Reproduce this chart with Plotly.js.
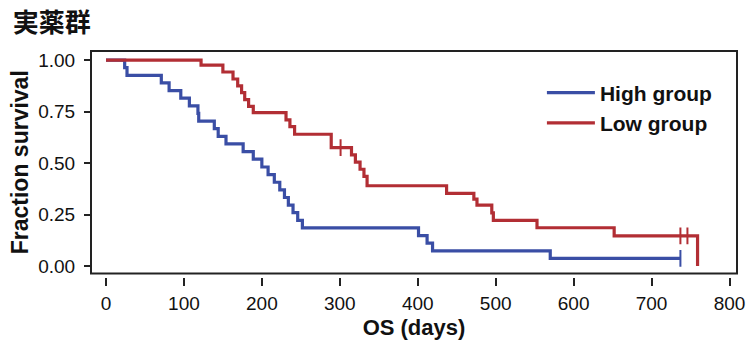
<!DOCTYPE html>
<html>
<head>
<meta charset="utf-8">
<script src="https://cdn.plot.ly/plotly-3.0.1.min.js"></script>
<style>html,body{margin:0;padding:0;background:#fff;}#chart{width:749px;height:340px;}</style>
</head>
<body>
<div id="chart"></div>
<script>
// High group (blue) step times (days) and survival fraction after each step
const highDays = [0, 24, 27, 71, 81, 96, 107, 118, 119, 139, 144, 154, 176, 189, 200, 208, 216, 223, 229, 234, 240, 246, 252, 401, 412, 419, 570, 737];
const highSurv = [1.0, 0.963, 0.926, 0.889, 0.852, 0.815, 0.778, 0.741, 0.704, 0.667, 0.630, 0.593, 0.556, 0.519, 0.481, 0.444, 0.407, 0.370, 0.333, 0.296, 0.259, 0.222, 0.185, 0.148, 0.111, 0.074, 0.037, 0.037];
const highCensorDays = [737];
const highCensorSurv = [0.037];

// Low group (red)
const lowDays = [0, 122, 150, 163, 169, 174, 178, 183, 189, 231, 236, 242, 289, 315, 320, 326, 331, 335, 437, 472, 476, 495, 497, 553, 652, 759];
const lowSurv = [1.0, 0.975, 0.942, 0.908, 0.875, 0.842, 0.808, 0.775, 0.745, 0.710, 0.677, 0.640, 0.575, 0.540, 0.505, 0.470, 0.435, 0.390, 0.353, 0.325, 0.296, 0.258, 0.222, 0.186, 0.147, 0.0];
const lowCensorDays = [301, 737, 746];
const lowCensorSurv = [0.575, 0.147, 0.147];

const xTicks = [0, 100, 200, 300, 400, 500, 600, 700, 800];
const yTicks = [0, 0.25, 0.5, 0.75, 1.0];
const yTickText = ['0.00', '0.25', '0.50', '0.75', '1.00'];

const blue = 'rgb(58,78,165)';
const red = 'rgb(178,46,52)';

const traces = [
  {x: highDays, y: highSurv, type: 'scatter', mode: 'lines', name: 'High group',
   line: {color: blue, width: 3.2, shape: 'hv'}},
  {x: lowDays, y: lowSurv, type: 'scatter', mode: 'lines', name: 'Low group',
   line: {color: red, width: 3.2, shape: 'hv'}},
  {x: highCensorDays, y: highCensorSurv, type: 'scatter', mode: 'markers', showlegend: false,
   marker: {symbol: 'line-ns', size: 12, line: {color: blue, width: 2}}},
  {x: lowCensorDays, y: lowCensorSurv, type: 'scatter', mode: 'markers', showlegend: false,
   marker: {symbol: 'line-ns', size: 12, line: {color: red, width: 2}}}
];

const layout = {
  width: 749, height: 340,
  margin: {l: 91, r: 12, t: 51, b: 63, pad: 0},
  paper_bgcolor: '#fff', plot_bgcolor: '#fff',
  font: {family: 'Liberation Sans, Arial, sans-serif', color: '#111', size: 19},
  title: {text: '実薬群', font: {family: 'Noto Sans CJK JP, sans-serif', size: 26, weight: 'bold', color: '#111'},
          xref: 'container', yref: 'container', x: 0.017, xanchor: 'left', y: 0.932, yanchor: 'middle'},
  showlegend: true,
  legend: {x: 0.698, y: 0.905, xanchor: 'left', yanchor: 'top', bgcolor: 'rgba(255,255,255,0)',
           itemwidth: 48, font: {size: 21, weight: 'bold', color: '#111'}, tracegroupgap: 0},
  xaxis: {range: [-19.2, 809.6], tickvals: xTicks, ticks: 'outside', ticklen: 8, tickwidth: 2, tickcolor: '#222',
          showline: false, showgrid: false, zeroline: false, anchor: 'free', position: 0,
          ticklabelstandoff: 1, tickfont: {size: 19},
          title: {text: 'OS (days)', font: {size: 22, weight: 'bold'}, standoff: 9}},
  yaxis: {range: [-0.036, 1.044], domain: [0.0155, 1], tickvals: yTicks, ticktext: yTickText,
          ticks: 'outside', ticklen: 6, tickwidth: 2, tickcolor: '#222',
          showline: false, showgrid: false, zeroline: false, ticklabelstandoff: 5, tickfont: {size: 19},
          title: {text: 'Fraction survival', font: {size: 23, weight: 'bold'}, standoff: 3}},
  shapes: [{type: 'rect', xref: 'x domain', yref: 'y domain', x0: 0, x1: 1, y0: 0, y1: 1,
            line: {color: '#222', width: 2}, layer: 'above'}]
};

Plotly.newPlot('chart', traces, layout, {displayModeBar: false, staticPlot: true});
</script>
</body>
</html>
